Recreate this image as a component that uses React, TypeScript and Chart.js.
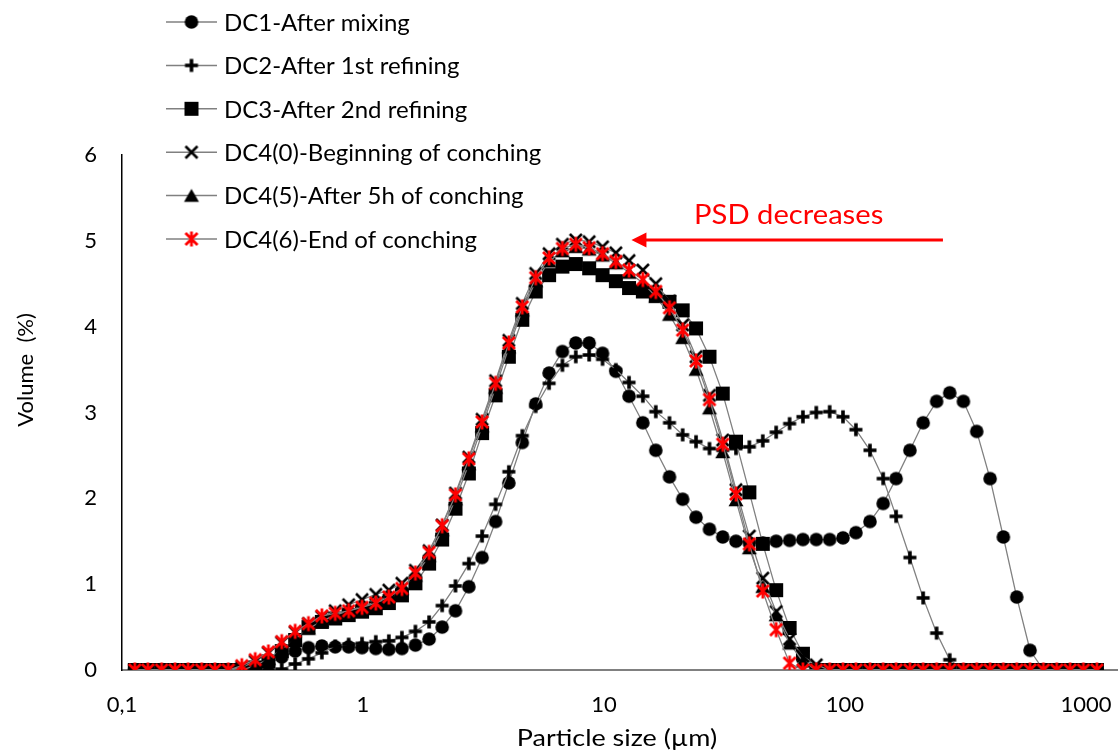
import React, { useEffect, useRef } from "react";
import { Chart, registerables } from "chart.js";

Chart.register(...registerables);

// Particle size classes (µm)
const SIZES = [
  0.113, 0.128, 0.146, 0.166, 0.188, 0.214, 0.243, 0.276, 0.314, 0.357,
  0.405, 0.46, 0.523, 0.594, 0.675, 0.767, 0.872, 0.991, 1.13, 1.28,
  1.45, 1.65, 1.88, 2.13, 2.42, 2.75, 3.12, 3.55, 4.03, 4.58,
  5.21, 5.92, 6.72, 7.64, 8.68, 9.86, 11.2, 12.7, 14.5, 16.4,
  18.7, 21.2, 24.1, 27.4, 31.1, 35.3, 40.1, 45.6, 51.8, 58.9,
  66.9, 76, 86.4, 98.1, 111, 127, 144, 163, 186, 211,
  240, 272, 310, 352, 400, 454, 516, 586, 666, 756,
  859, 976, 1110,
];

const DC1 = [
  0, 0, 0, 0, 0, 0, 0, 0, 0, 0.02,
  0.07, 0.15, 0.22, 0.26, 0.28, 0.27, 0.27, 0.26, 0.25, 0.24,
  0.25, 0.29, 0.36, 0.5, 0.69, 0.97, 1.31, 1.73, 2.18, 2.65,
  3.1, 3.46, 3.71, 3.81, 3.81, 3.69, 3.48, 3.19, 2.88, 2.56,
  2.25, 1.99, 1.78, 1.64, 1.55, 1.5, 1.48, 1.48, 1.5, 1.51,
  1.52, 1.52, 1.52, 1.54, 1.6, 1.73, 1.94, 2.23, 2.56, 2.88,
  3.13, 3.23, 3.13, 2.78, 2.23, 1.55, 0.85, 0.23, 0, 0,
  0, 0, 0,
];

const DC2 = [
  0, 0, 0, 0, 0, 0, 0, 0, 0, 0,
  0, 0.01, 0.07, 0.13, 0.2, 0.28, 0.3, 0.31, 0.33, 0.34,
  0.38, 0.45, 0.56, 0.75, 0.98, 1.24, 1.56, 1.93, 2.31, 2.73,
  3.07, 3.34, 3.55, 3.65, 3.67, 3.62, 3.5, 3.35, 3.19, 3.01,
  2.88, 2.74, 2.66, 2.58, 2.56, 2.58, 2.6, 2.67, 2.77, 2.87,
  2.95, 3.0, 3.01, 2.95, 2.8, 2.56, 2.23, 1.79, 1.31, 0.84,
  0.43, 0.12, 0, 0, 0, 0, 0, 0, 0, 0,
  0, 0, 0,
];

const DC3 = [
  0, 0, 0, 0, 0, 0, 0, 0, 0, 0.03,
  0.1, 0.22, 0.35, 0.5, 0.56, 0.6, 0.64, 0.68, 0.72, 0.78,
  0.87, 1.01, 1.24, 1.52, 1.88, 2.29, 2.76, 3.2, 3.65, 4.08,
  4.41, 4.6, 4.7, 4.73, 4.68, 4.6, 4.53, 4.45, 4.41, 4.36,
  4.29, 4.19, 3.98, 3.65, 3.22, 2.66, 2.07, 1.47, 0.93, 0.49,
  0.19, 0, 0, 0, 0, 0, 0, 0, 0, 0,
  0, 0, 0, 0, 0, 0, 0, 0, 0, 0,
  0, 0, 0,
];

const DC4_0 = [
  0, 0, 0, 0, 0, 0, 0, 0, 0.03, 0.1,
  0.2, 0.32, 0.44, 0.54, 0.62, 0.69, 0.76, 0.82, 0.88, 0.93,
  1.01, 1.16, 1.39, 1.69, 2.06, 2.48, 2.92, 3.37, 3.84, 4.27,
  4.62, 4.85, 4.96, 5.01, 4.99, 4.93, 4.86, 4.77, 4.66, 4.5,
  4.3, 4.02, 3.65, 3.2, 2.68, 2.1, 1.56, 1.07, 0.68, 0.36,
  0.16, 0.06, 0, 0, 0, 0, 0, 0, 0, 0,
  0, 0, 0, 0, 0, 0, 0, 0, 0, 0,
  0, 0, 0,
];

const DC4_5 = [
  0, 0, 0, 0, 0, 0, 0, 0, 0, 0.05,
  0.13, 0.24, 0.36, 0.48, 0.57, 0.64, 0.69, 0.74, 0.79, 0.86,
  0.95, 1.1, 1.33, 1.63, 1.99, 2.4, 2.84, 3.29, 3.76, 4.19,
  4.53, 4.76, 4.88, 4.93, 4.9, 4.83, 4.74, 4.63, 4.51, 4.35,
  4.14, 3.87, 3.5, 3.05, 2.54, 1.98, 1.42, 0.97, 0.64, 0.31,
  0.1, 0, 0, 0, 0, 0, 0, 0, 0, 0,
  0, 0, 0, 0, 0, 0, 0, 0, 0, 0,
  0, 0, 0,
];

const DC4_6 = [
  0, 0, 0, 0, 0, 0, 0, 0, 0.05, 0.12,
  0.21, 0.33, 0.45, 0.54, 0.63, 0.66, 0.69, 0.73, 0.78, 0.85,
  0.95, 1.13, 1.37, 1.68, 2.04, 2.46, 2.89, 3.34, 3.81, 4.23,
  4.57, 4.8, 4.91, 4.96, 4.92, 4.85, 4.76, 4.66, 4.55, 4.41,
  4.22, 3.96, 3.6, 3.15, 2.63, 2.05, 1.47, 0.92, 0.47, 0.08,
  0, 0, 0, 0, 0, 0, 0, 0, 0, 0,
  0, 0, 0, 0, 0, 0, 0, 0, 0, 0,
  0, 0, 0,
];

const SERIES_NAMES = [
  "DC1-After mixing",
  "DC2-After 1st refining",
  "DC3-After 2nd refining",
  "DC4(0)-Beginning of conching",
  "DC4(5)-After 5h of conching",
  "DC4(6)-End of conching",
];
const SERIES_VALUES = [DC1, DC2, DC3, DC4_0, DC4_5, DC4_6];
const SERIES_MARKERS = ["circle", "plus", "square", "x", "triangle", "star"];

const X_TICKS = [0.1, 1, 10, 100, 1000];
const X_TICK_LABELS = ["0,1", "1", "10", "100", "1000"];
const X_MIN = 0.1;
const X_MAX = 1358;
const Y_MIN = 0;
const Y_MAX = 6;

const X_TITLE = "Particle size (µm)";
const Y_TITLE = "Volume  (%)";
const ANNOTATION_TEXT = "PSD decreases";
const ARROW_TAIL = { x: 255, y: 5.01 };
const ARROW_HEAD = { x: 13.0, y: 5.01 };
const ANNOTATION_POS = { x: 58.4, y: 5.2 };

const FONT = "Lato";
const LINE_COLOR = "#808080";

function makeMarker(kind: string): HTMLCanvasElement {
  const c = document.createElement("canvas");
  c.width = 20;
  c.height = 20;
  const g = c.getContext("2d")!;
  g.fillStyle = "#000";
  g.strokeStyle = "#000";
  g.lineCap = "butt";
  const m = 10;
  g.beginPath();
  if (kind === "circle") {
    g.arc(m, m, 6.8, 0, Math.PI * 2);
    g.fill();
  } else if (kind === "plus") {
    g.lineWidth = 3.6;
    g.moveTo(m - 6.5, m);
    g.lineTo(m + 6.5, m);
    g.moveTo(m, m - 6.5);
    g.lineTo(m, m + 6.5);
    g.stroke();
  } else if (kind === "square") {
    g.fillRect(m - 7, m - 7, 14, 14);
  } else if (kind === "x") {
    g.lineWidth = 2.6;
    g.moveTo(m - 6, m - 6);
    g.lineTo(m + 6, m + 6);
    g.moveTo(m + 6, m - 6);
    g.lineTo(m - 6, m + 6);
    g.stroke();
  } else if (kind === "triangle") {
    g.moveTo(m, m - 6.8);
    g.lineTo(m + 7.5, m + 6.2);
    g.lineTo(m - 7.5, m + 6.2);
    g.closePath();
    g.fill();
  } else if (kind === "star") {
    g.strokeStyle = "#ff0000";
    g.lineWidth = 2.8;
    g.moveTo(m - 6, m - 6);
    g.lineTo(m + 6, m + 6);
    g.moveTo(m + 6, m - 6);
    g.lineTo(m - 6, m + 6);
    g.moveTo(m, m - 7.5);
    g.lineTo(m, m + 7.5);
    g.stroke();
  }
  return c;
}

function stretchedText(
  ctx: CanvasRenderingContext2D,
  text: string,
  x: number,
  y: number,
  sx: number
) {
  ctx.save();
  ctx.translate(x, y);
  ctx.scale(sx, 1);
  ctx.fillText(text, 0, 0);
  ctx.restore();
}

export default function App() {
  const ref = useRef<HTMLCanvasElement>(null);

  useEffect(() => {
    document.body.style.margin = "0";
    const canvas = ref.current!;
    const markers = SERIES_MARKERS.map(makeMarker);

    const overlay = {
      id: "overlay",
      afterDraw(chart: any) {
        const ctx = chart.ctx as CanvasRenderingContext2D;
        const xs = chart.scales.x;
        const ys = chart.scales.y;
        const area = chart.chartArea;
        ctx.save();
        // Legend
        SERIES_NAMES.forEach((name, i) => {
          const y = 22 + i * 43.4;
          ctx.strokeStyle = LINE_COLOR;
          ctx.lineWidth = 1.5;
          ctx.beginPath();
          ctx.moveTo(166, y);
          ctx.lineTo(217, y);
          ctx.stroke();
          ctx.drawImage(markers[i], 191.5 - 10, y - 10);
          ctx.fillStyle = "#000";
          ctx.font = `24px ${FONT}`;
          ctx.textAlign = "left";
          ctx.textBaseline = "middle";
          ctx.fillText(name, 224, y + 1);
        });
        // Arrow annotation
        const tx = xs.getPixelForValue(ARROW_TAIL.x);
        const ty = ys.getPixelForValue(ARROW_TAIL.y);
        const hx = xs.getPixelForValue(ARROW_HEAD.x);
        const hy = ys.getPixelForValue(ARROW_HEAD.y);
        ctx.strokeStyle = "#ff0000";
        ctx.fillStyle = "#ff0000";
        ctx.lineWidth = 3;
        ctx.beginPath();
        ctx.moveTo(tx, ty);
        ctx.lineTo(hx + 12, hy);
        ctx.stroke();
        ctx.beginPath();
        ctx.moveTo(hx, hy);
        ctx.lineTo(hx + 15, hy - 7.5);
        ctx.lineTo(hx + 15, hy + 7.5);
        ctx.closePath();
        ctx.fill();
        ctx.font = `27px ${FONT}`;
        ctx.textAlign = "center";
        ctx.textBaseline = "alphabetic";
        stretchedText(
          ctx,
          ANNOTATION_TEXT,
          xs.getPixelForValue(ANNOTATION_POS.x),
          ys.getPixelForValue(ANNOTATION_POS.y),
          1.08
        );
        // Axis titles
        ctx.fillStyle = "#000";
        ctx.font = `23px ${FONT}`;
        ctx.textAlign = "center";
        ctx.textBaseline = "alphabetic";
        stretchedText(ctx, X_TITLE, (area.left + area.right) / 2 - 3, 746, 1.17);
        ctx.font = `22px ${FONT}`;
        ctx.translate(33, 370);
        ctx.rotate(-Math.PI / 2);
        ctx.fillText(Y_TITLE, 0, 0);
        ctx.restore();
      },
    };

    const datasets = SERIES_NAMES.map((name, i) => ({
      label: name,
      data: SIZES.map((s, j) => ({ x: s, y: SERIES_VALUES[i][j] })),
      borderColor: LINE_COLOR,
      borderWidth: 1.3,
      backgroundColor: "#000",
      pointStyle: markers[i],
      pointRadius: 7,
      tension: 0,
      order: SERIES_NAMES.length - 1 - i,
    }));

    const chart = new Chart(canvas, {
      type: "line",
      data: { datasets },
      options: {
        animation: false,
        responsive: false,
        devicePixelRatio: 1,
        parsing: false,
        layout: {
          autoPadding: false,
          padding: { top: 155, left: 0, right: 0, bottom: 0 },
        },
        plugins: {
          legend: { display: false },
          tooltip: { enabled: false },
        },
        scales: {
          x: {
            type: "logarithmic",
            min: X_MIN,
            max: X_MAX,
            afterBuildTicks: (s: any) => {
              s.ticks = X_TICKS.map((v) => ({ value: v }));
            },
            afterFit: (s: any) => {
              s.height = 84;
              s.paddingLeft = 0;
              s.paddingRight = 0;
            },
            ticks: {
              callback: (_v: any, i: number) => X_TICK_LABELS[i],
              font: { family: FONT, size: 22 },
              color: "#000",
              padding: 22,
              maxRotation: 0,
              autoSkip: false,
            },
            grid: { display: false, drawTicks: false },
            border: { display: true, color: "#808080", width: 2 },
          },
          y: {
            min: Y_MIN,
            max: Y_MAX,
            afterFit: (s: any) => {
              s.width = 122;
            },
            ticks: {
              stepSize: 1,
              font: { family: FONT, size: 22 },
              color: "#000",
              padding: 25,
            },
            grid: { display: false, drawTicks: false },
            border: { display: true, color: "#000", width: 1.5 },
          },
        },
      },
      plugins: [overlay],
    } as any);

    return () => chart.destroy();
  }, []);

  return (
    <div style={{ width: 1118, height: 754, position: "relative" }}>
      <canvas
        ref={ref}
        width={1118}
        height={754}
        style={{ display: "block", width: 1118, height: 754 }}
      />
    </div>
  );
}
